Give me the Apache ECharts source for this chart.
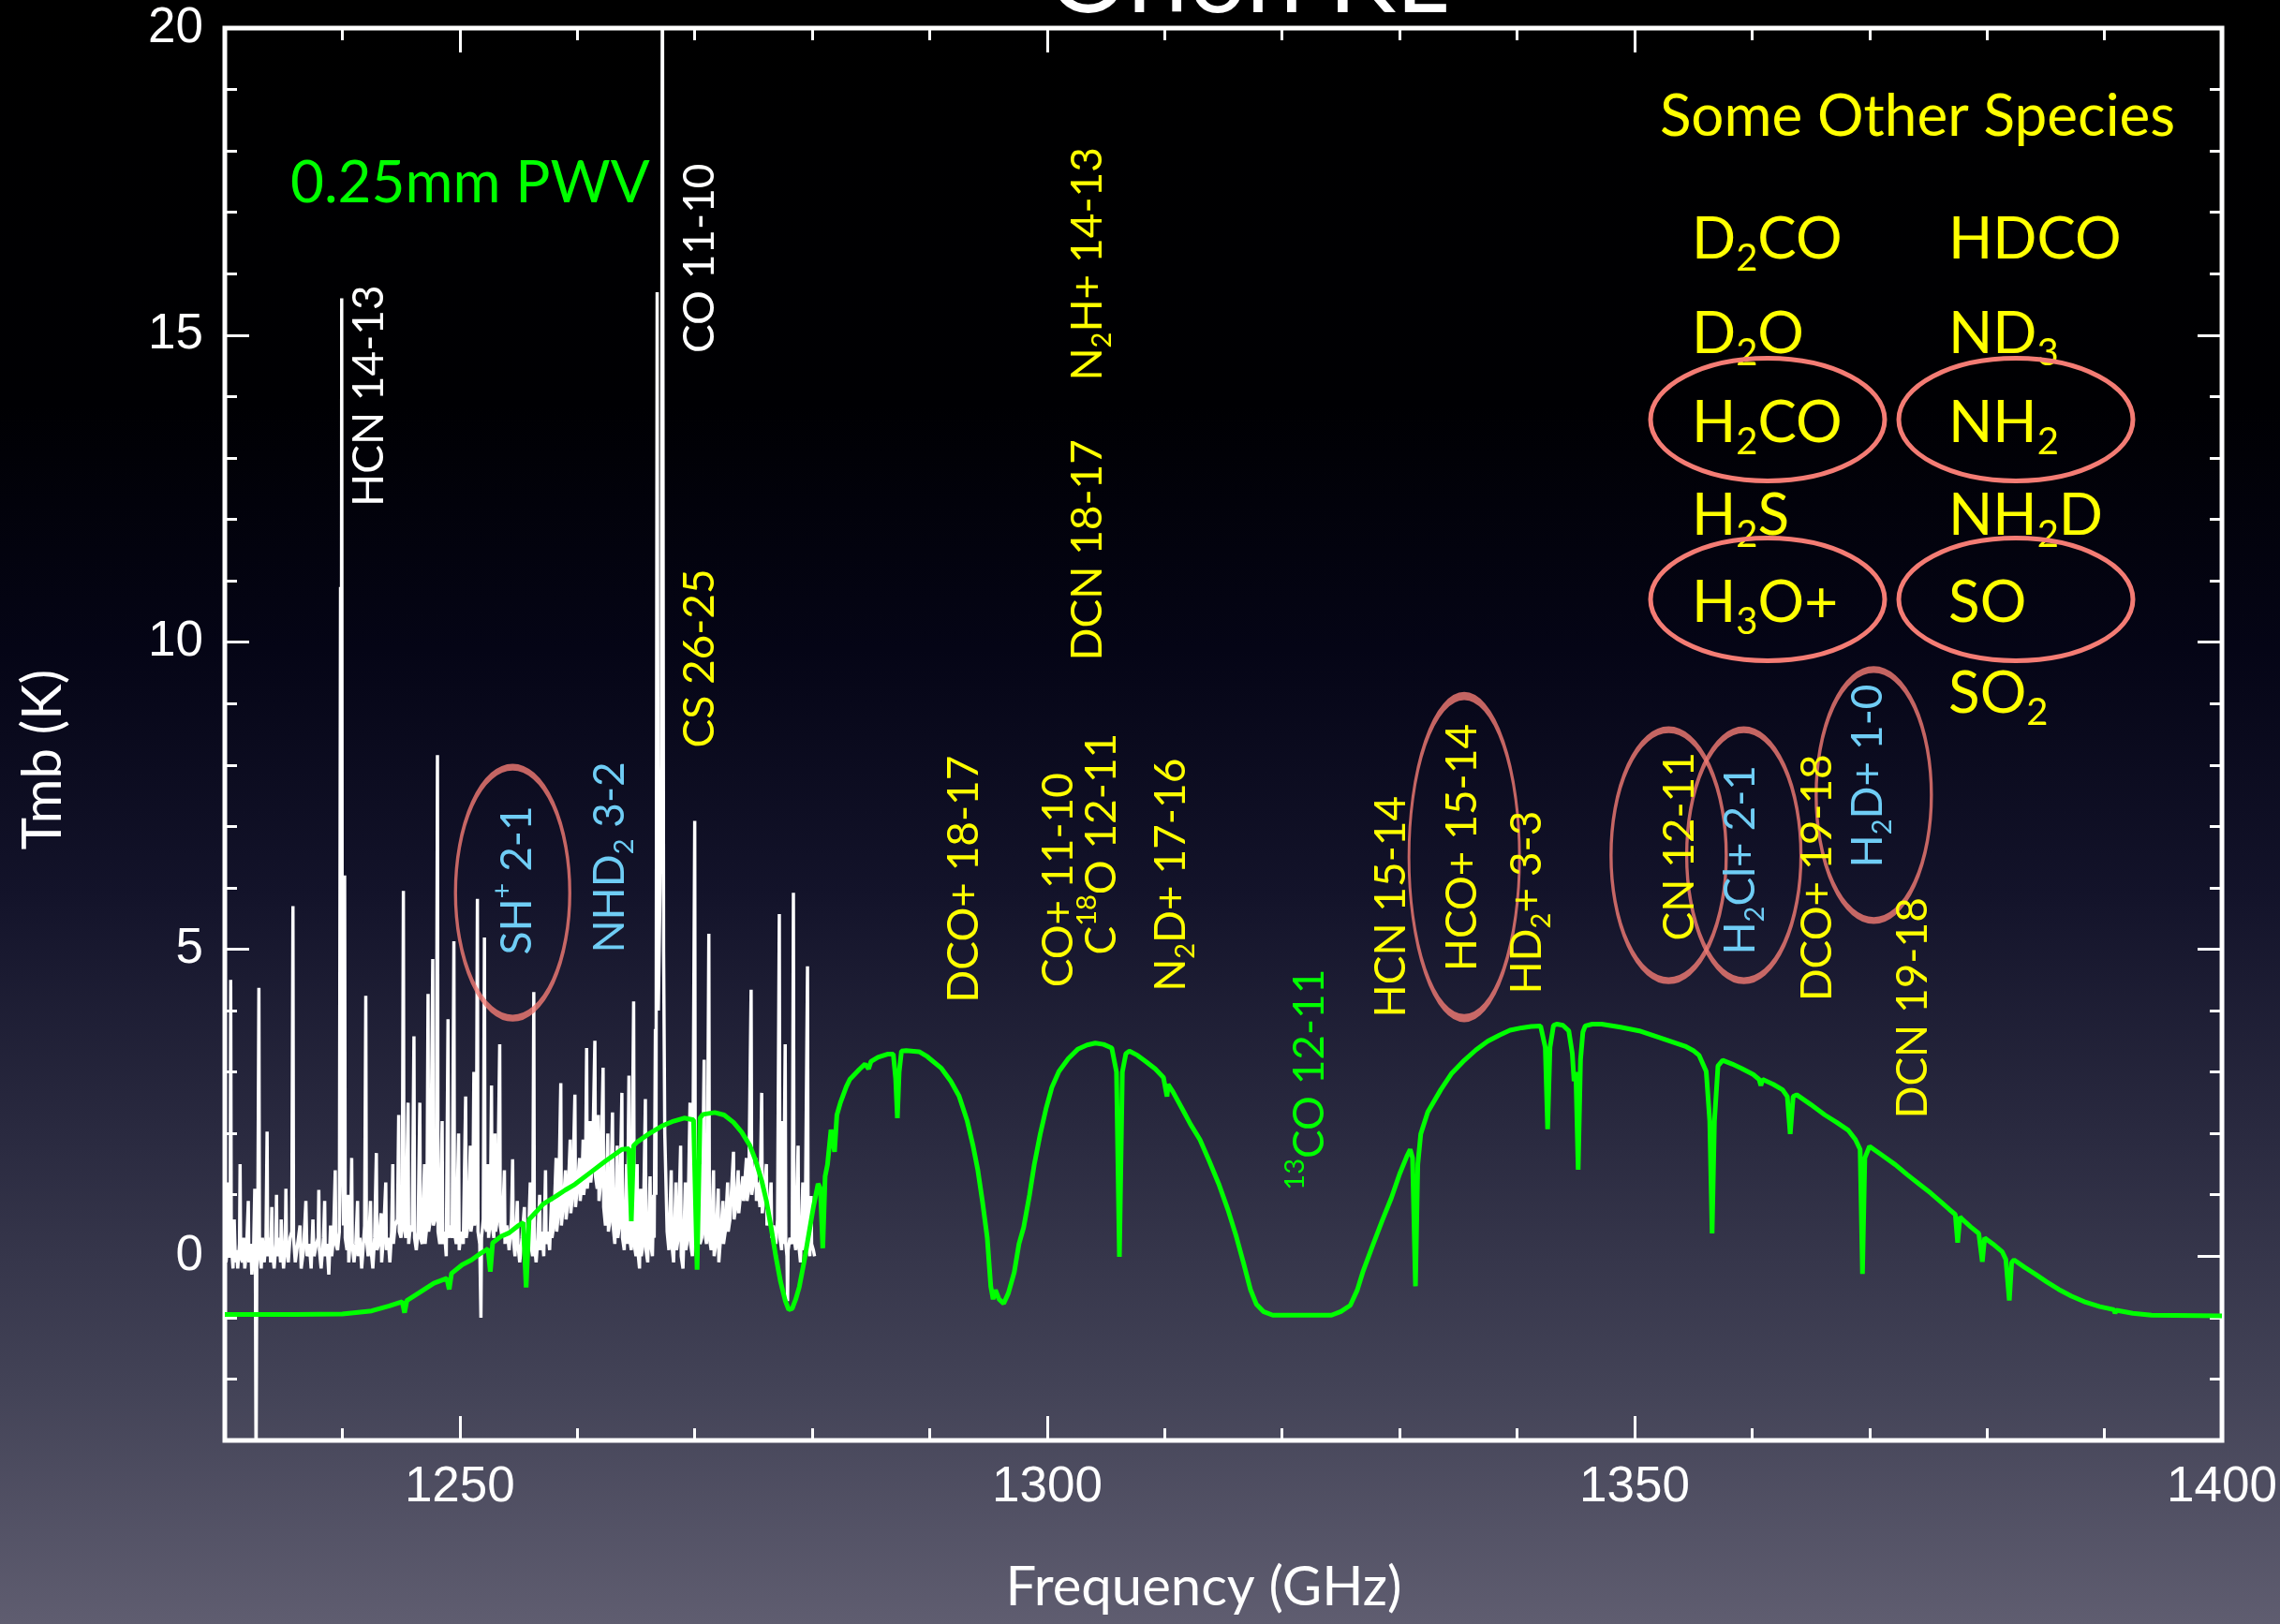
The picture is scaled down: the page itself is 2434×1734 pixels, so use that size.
<!DOCTYPE html>
<html>
<head>
<meta charset="utf-8">
<title>Orion KL</title>
<script src="https://cdn.jsdelivr.net/npm/echarts@6/dist/echarts.min.js"></script>
<style>
  html, body { margin: 0; padding: 0; background: #000; }
  #chart { width: 2434px; height: 1734px; }
</style>
</head>
<body>
<div id="chart"></div>
<script>
// ---- Orion KL spectrum, 1230-1400 GHz, with 0.25 mm PWV atmospheric transmission ----

// Observed spectrum: [frequency GHz, Tmb K]
const spectrum = [
  [1230.0,0.2],[1230.1,-0.1],[1230.2,0.1],[1230.3,1.2],[1230.35,0.0],[1230.45,0.1],[1230.5,4.5],[1230.55,0.2],
  [1230.7,-0.2],[1230.8,0.6],[1230.9,-0.1],[1231.0,0.1],[1231.1,-0.2],[1231.25,0.2],[1231.3,1.5],[1231.35,0.0],
  [1231.5,-0.1],[1231.6,0.3],[1231.7,-0.2],[1231.85,0.1],[1232.0,0.9],[1232.05,-0.1],[1232.2,0.2],[1232.3,-0.3],
  [1232.45,0.1],[1232.55,1.1],[1232.6,-0.1],[1232.66,-3.6],[1232.72,-0.2],[1232.8,0.2],[1232.9,4.37],[1232.95,0.1],
  [1233.1,-0.2],[1233.2,0.3],[1233.35,-0.1],[1233.5,0.2],[1233.6,2.03],[1233.65,0.0],[1233.8,0.3],[1233.9,-0.1],
  [1234.0,0.8],[1234.05,0.1],[1234.2,-0.2],[1234.35,0.2],[1234.4,1.0],[1234.45,0.0],[1234.6,0.3],[1234.75,-0.1],
  [1234.8,0.6],[1234.9,0.1],[1235.0,-0.2],[1235.15,0.2],[1235.2,1.1],[1235.25,0.2],[1235.4,-0.1],[1235.55,0.3],
  [1235.7,0.4],[1235.8,5.7],[1235.85,0.3],[1236.0,-0.1],[1236.2,0.2],[1236.4,0.5],[1236.5,-0.2],[1236.7,0.1],
  [1236.9,0.9],[1237.0,0.0],[1237.2,0.2],[1237.35,-0.2],[1237.5,0.6],[1237.6,0.0],[1237.8,0.2],[1237.95,0.3],
  [1238.0,1.08],[1238.05,0.1],[1238.2,-0.2],[1238.4,0.3],[1238.5,0.9],[1238.55,0.0],[1238.7,0.2],[1238.85,-0.3],
  [1239.0,0.5],[1239.1,0.0],[1239.25,0.3],[1239.4,1.4],[1239.45,0.2],[1239.6,0.1],[1239.75,0.4],[1239.85,10.9],
  [1239.9,1.2],[1239.95,15.6],[1240.0,1.5],[1240.1,0.5],[1240.2,6.2],[1240.25,0.3],[1240.4,0.1],[1240.5,1.0],
  [1240.55,-0.1],[1240.7,0.3],[1240.8,1.6],[1240.85,0.2],[1241.0,-0.1],[1241.15,0.2],[1241.3,0.9],[1241.35,0.0],
  [1241.5,0.3],[1241.65,-0.2],[1241.8,0.2],[1241.9,0.5],[1242.0,4.24],[1242.05,0.3],[1242.2,0.0],[1242.4,0.9],
  [1242.45,0.1],[1242.6,-0.2],[1242.75,0.3],[1242.9,1.68],[1242.95,0.1],[1243.1,0.2],[1243.3,0.7],[1243.35,-0.1],
  [1243.5,0.3],[1243.7,1.2],[1243.75,0.1],[1243.9,0.3],[1244.05,-0.1],[1244.2,0.4],[1244.3,1.5],[1244.35,0.2],
  [1244.5,0.5],[1244.7,0.6],[1244.8,2.3],[1244.85,0.4],[1245.0,0.3],[1245.1,0.6],[1245.2,5.95],[1245.25,0.5],
  [1245.4,0.3],[1245.6,2.5],[1245.65,0.2],[1245.8,0.5],[1245.95,0.4],[1246.1,3.58],[1246.15,0.3],[1246.3,0.1],
  [1246.45,0.4],[1246.6,2.5],[1246.65,0.3],[1246.8,0.2],[1247.0,1.5],[1247.05,0.2],[1247.2,0.5],[1247.3,4.27],
  [1247.35,0.4],[1247.5,0.6],[1247.7,4.84],[1247.75,0.5],[1247.9,0.6],[1248.0,1.2],[1248.1,8.16],[1248.15,0.4],
  [1248.3,0.2],[1248.5,2.2],[1248.55,0.2],[1248.7,0.4],[1248.85,0.0],[1249.0,3.86],[1249.05,0.3],[1249.2,0.5],
  [1249.35,0.3],[1249.5,5.13],[1249.55,0.4],[1249.7,0.2],[1249.9,2.0],[1249.95,0.1],[1250.1,0.4],[1250.3,0.2],
  [1250.5,2.6],[1250.55,0.3],[1250.7,0.5],[1250.9,1.8],[1250.95,0.4],[1251.1,0.6],[1251.2,3.0],[1251.25,0.5],
  [1251.4,0.7],[1251.5,5.82],[1251.55,0.4],[1251.7,0.2],[1251.8,-1.0],[1251.85,0.3],[1252.0,0.6],[1252.1,5.19],
  [1252.15,0.5],[1252.3,0.4],[1252.4,1.5],[1252.45,0.3],[1252.6,0.6],[1252.7,2.78],[1252.75,0.5],[1252.9,0.3],
  [1253.0,2.0],[1253.05,0.4],[1253.2,0.6],[1253.4,3.45],[1253.45,0.5],[1253.6,0.3],[1253.8,1.4],[1253.85,0.2],
  [1254.0,0.5],[1254.2,0.1],[1254.4,0.6],[1254.5,1.58],[1254.55,0.3],[1254.7,0.0],[1254.9,0.9],[1254.95,0.2],
  [1255.1,-0.1],[1255.3,0.3],[1255.5,0.8],[1255.55,0.1],[1255.7,-0.2],[1255.85,0.3],[1256.0,1.2],[1256.05,0.2],
  [1256.2,0.0],[1256.3,4.3],[1256.35,0.2],[1256.5,-0.1],[1256.65,0.3],[1256.8,1.0],[1256.85,0.1],[1257.0,0.4],
  [1257.15,0.0],[1257.3,1.4],[1257.35,0.2],[1257.5,0.4],[1257.65,0.1],[1257.8,0.9],[1257.85,0.3],[1258.0,0.5],
  [1258.2,1.6],[1258.25,0.4],[1258.4,0.7],[1258.6,2.82],[1258.65,0.5],[1258.8,0.8],[1259.0,1.4],[1259.05,0.6],
  [1259.2,0.9],[1259.4,1.9],[1259.45,0.7],[1259.6,1.0],[1259.8,2.63],[1259.85,0.8],[1260.0,1.1],[1260.2,1.6],
  [1260.25,0.9],[1260.4,1.2],[1260.5,1.9],[1260.55,1.0],[1260.7,1.3],[1260.8,3.39],[1260.85,1.1],[1261.0,1.4],
  [1261.1,2.2],[1261.15,1.2],[1261.3,1.5],[1261.5,3.51],[1261.55,1.3],[1261.7,1.1],[1261.8,2.3],[1261.85,0.9],
  [1262.0,1.2],[1262.2,3.07],[1262.25,0.8],[1262.4,0.5],[1262.6,2.0],[1262.65,0.4],[1262.8,0.6],[1263.0,2.34],
  [1263.05,0.5],[1263.2,0.2],[1263.4,1.8],[1263.45,0.3],[1263.6,0.5],[1263.8,2.66],[1263.85,0.3],[1264.0,0.1],
  [1264.2,1.5],[1264.25,0.2],[1264.4,2.94],[1264.45,0.3],[1264.6,0.1],[1264.8,4.15],[1264.85,0.2],[1265.0,0.0],
  [1265.1,1.5],[1265.15,0.1],[1265.3,-0.2],[1265.4,1.1],[1265.45,0.0],[1265.6,0.2],[1265.8,2.56],[1265.85,0.1],
  [1266.0,-0.1],[1266.2,1.3],[1266.25,0.2],[1266.4,0.0],[1266.5,1.0],[1266.55,0.3],[1266.65,3.7],[1266.7,1.0],
  [1266.8,15.7],[1266.9,4.0],[1267.05,6.0],[1267.15,8.0],[1267.25,22.0],[1267.35,4.97],[1267.45,2.0],[1267.6,2.0],
  [1267.65,0.4],[1267.8,0.1],[1268.0,1.4],[1268.05,0.2],[1268.2,-0.1],[1268.4,1.2],[1268.45,0.1],[1268.6,0.3],
  [1268.8,1.8],[1268.85,0.0],[1269.0,-0.2],[1269.2,1.2],[1269.25,0.1],[1269.4,0.3],[1269.6,2.5],[1269.65,0.2],
  [1269.8,0.0],[1270.0,7.09],[1270.05,0.2],[1270.2,0.0],[1270.4,1.5],[1270.45,0.2],[1270.6,0.3],[1270.8,3.2],
  [1270.85,0.4],[1271.0,0.2],[1271.1,1.9],[1271.2,5.25],[1271.25,0.3],[1271.4,0.1],[1271.6,1.4],[1271.65,0.0],
  [1271.8,0.2],[1272.0,1.1],[1272.05,-0.1],[1272.2,0.3],[1272.4,0.9],[1272.45,0.2],[1272.6,0.4],[1272.8,1.2],
  [1272.85,0.4],[1273.0,0.6],[1273.3,1.7],[1273.35,0.6],[1273.5,0.8],[1273.7,1.4],[1273.75,0.7],[1273.9,1.0],
  [1274.1,1.3],[1274.15,0.9],[1274.4,1.6],[1274.45,0.9],[1274.6,1.1],[1274.8,4.34],[1274.85,1.0],[1275.0,1.2],
  [1275.2,1.6],[1275.25,0.9],[1275.4,1.2],[1275.55,0.8],[1275.7,2.66],[1275.75,0.7],[1275.9,1.0],[1276.1,1.5],
  [1276.15,0.5],[1276.3,0.7],[1276.5,1.2],[1276.55,0.3],[1276.7,0.5],[1276.9,0.2],[1277.05,0.6],[1277.2,5.57],
  [1277.25,0.3],[1277.4,0.1],[1277.5,2.2],[1277.55,0.2],[1277.7,3.45],[1277.75,0.2],[1277.85,0.0],[1277.9,-0.73],
  [1277.95,0.1],[1278.1,0.3],[1278.3,0.2],[1278.4,5.92],[1278.45,0.3],[1278.6,0.1],[1278.8,1.8],[1278.85,0.2],
  [1279.0,-0.1],[1279.2,1.2],[1279.25,0.1],[1279.4,0.3],[1279.6,4.72],[1279.65,0.2],[1279.8,0.0],[1279.9,0.98],
  [1279.95,0.2],[1280.1,0.1],[1280.2,0.0]
];

// Atmospheric transmission for 0.25 mm PWV, drawn on the Tmb scale: [frequency GHz, level]
const transmission = [
  [1230.0,-0.95],[1236.0,-0.95],[1240.0,-0.94],[1242.5,-0.89],[1244.0,-0.81],[1245.1,-0.74],[1245.3,-0.92],
  [1245.5,-0.72],[1246.5,-0.6],[1247.8,-0.44],[1248.9,-0.36],[1249.1,-0.54],[1249.3,-0.28],[1250.2,-0.14],
  [1251.0,-0.06],[1251.8,0.05],[1252.4,0.12],[1252.6,-0.25],[1252.8,0.22],[1253.5,0.32],[1254.2,0.38],
  [1255.0,0.5],[1255.4,0.55],[1255.65,-0.51],[1255.9,0.6],[1256.5,0.72],[1257.1,0.85],[1258.2,0.98],
  [1259.0,1.08],[1259.8,1.17],[1261.1,1.36],[1262.4,1.55],[1263.8,1.74],[1264.4,1.75],[1264.6,0.57],
  [1264.8,1.8],[1265.1,1.86],[1266.0,1.98],[1267.2,2.12],[1268.2,2.2],[1269.1,2.25],[1269.9,2.22],
  [1270.2,-0.22],[1270.45,2.25],[1270.7,2.31],[1271.7,2.34],[1272.5,2.3],[1273.3,2.18],[1274.0,2.02],
  [1274.7,1.8],[1275.2,1.55],[1275.7,1.23],[1276.1,0.9],[1276.5,0.47],[1276.9,0.0],[1277.3,-0.41],
  [1277.7,-0.72],[1278.0,-0.87],[1278.3,-0.85],[1278.6,-0.7],[1278.9,-0.5],[1279.3,-0.1],[1279.7,0.35],
  [1280.1,0.8],[1280.5,1.18],[1280.7,1.1],[1280.9,0.13],[1281.1,1.3],[1281.3,1.49],[1281.6,2.06],
  [1281.9,1.7],[1282.1,2.3],[1282.4,2.5],[1282.9,2.76],[1283.2,2.88],[1284.0,3.04],[1284.5,3.13],
  [1284.8,3.05],[1285.0,3.17],[1285.6,3.24],[1286.4,3.29],[1286.9,3.29],[1287.1,2.9],[1287.25,2.25],
  [1287.4,3.0],[1287.6,3.34],[1288.0,3.35],[1289.1,3.33],[1289.8,3.25],[1291.0,3.06],[1291.8,2.85],
  [1292.5,2.61],[1293.2,2.2],[1293.7,1.79],[1294.1,1.4],[1294.5,0.88],[1294.9,0.3],[1295.2,-0.49],
  [1295.4,-0.7],[1295.6,-0.55],[1295.9,-0.7],[1296.3,-0.77],[1296.7,-0.6],[1297.2,-0.26],[1297.6,0.2],
  [1298.0,0.47],[1298.5,1.0],[1298.9,1.49],[1299.4,1.98],[1299.9,2.4],[1300.4,2.75],[1301.0,3.01],
  [1301.8,3.22],[1302.6,3.37],[1303.4,3.44],[1304.1,3.47],[1304.8,3.45],[1305.5,3.39],[1305.9,3.0],
  [1306.15,-0.01],[1306.4,3.0],[1306.7,3.3],[1307.0,3.34],[1307.7,3.27],[1308.4,3.17],[1309.2,3.05],
  [1309.9,2.91],[1310.2,2.6],[1310.3,2.8],[1310.7,2.68],[1311.5,2.4],[1312.2,2.15],[1313.0,1.9],
  [1313.8,1.55],[1314.6,1.18],[1315.4,0.75],[1316.1,0.32],[1316.7,-0.1],[1317.3,-0.54],[1317.8,-0.78],
  [1318.4,-0.9],[1319.2,-0.96],[1324.2,-0.96],[1325.0,-0.9],[1325.8,-0.8],[1326.4,-0.55],[1326.9,-0.24],
  [1327.7,0.17],[1328.5,0.57],[1329.3,0.95],[1330.0,1.34],[1330.6,1.62],[1330.9,1.74],[1331.1,1.6],
  [1331.35,-0.49],[1331.55,1.5],[1331.8,1.99],[1332.4,2.35],[1333.5,2.71],[1334.4,2.97],[1335.4,3.17],
  [1336.5,3.36],[1337.5,3.5],[1338.5,3.6],[1339.4,3.68],[1340.4,3.72],[1341.2,3.74],[1342.0,3.75],
  [1342.4,3.4],[1342.6,2.07],[1342.8,3.4],[1343.1,3.76],[1343.4,3.78],[1343.9,3.76],[1344.4,3.67],
  [1344.7,3.3],[1344.85,2.85],[1345.0,3.0],[1345.2,1.41],[1345.4,3.2],[1345.6,3.65],[1345.8,3.75],
  [1346.4,3.78],[1347.2,3.78],[1348.8,3.73],[1350.4,3.67],[1352.3,3.55],[1354.3,3.42],[1355.0,3.35],
  [1355.5,3.27],[1356.1,3.01],[1356.4,2.2],[1356.6,0.37],[1356.8,2.2],[1357.1,3.1],[1357.5,3.19],
  [1358.3,3.13],[1359.1,3.06],[1360.1,2.96],[1360.6,2.88],[1360.75,2.78],[1360.9,2.88],[1361.8,2.8],
  [1362.6,2.71],[1363.0,2.6],[1363.25,1.99],[1363.5,2.6],[1363.8,2.63],[1365.0,2.47],[1366.2,2.3],
  [1367.2,2.18],[1368.2,2.05],[1368.8,1.9],[1369.2,1.74],[1369.4,-0.29],[1369.6,1.6],[1370.0,1.79],
  [1371.1,1.64],[1372.2,1.49],[1373.2,1.33],[1374.2,1.18],[1375.2,1.03],[1376.1,0.88],[1376.8,0.76],
  [1377.3,0.68],[1377.5,0.22],[1377.7,0.64],[1377.9,0.6],[1378.6,0.48],[1379.3,0.37],[1379.6,-0.09],
  [1379.8,0.3],[1380.5,0.2],[1381.3,0.07],[1381.6,-0.05],[1381.9,-0.72],[1382.1,-0.1],[1382.3,-0.06],
  [1383.2,-0.18],[1384.1,-0.29],[1385.1,-0.42],[1386.1,-0.54],[1387.2,-0.65],[1388.4,-0.75],[1389.6,-0.82],
  [1390.8,-0.87],[1390.9,-0.93],[1391.0,-0.88],[1392.4,-0.93],[1394.0,-0.96],[1400.0,-0.97]
];

// Axis ticks
const freqMajorTicks = [1250, 1300, 1350, 1400];
const tmbMajorTicks = [0, 5, 10, 15, 20];

// Line identifications ({s|..} subscript, {p|..} superscript)
const lineLabelText = [
  'HCN 14-13', 'CO 11-10', 'CS 26-25', 'N{s|2}H+ 14-13', 'DCN 18-17',
  'SH{p|+} 2-1', 'NHD{s|2} 3-2', 'DCO+ 18-17', 'CO+ 11-10', 'C{p|18}O 12-11',
  'N{s|2}D+ 17-16', '{p|13}CO 12-11', 'HCN 15-14', 'HCO+ 15-14', 'HD{s|2}+ 3-3',
  'CN 12-11', 'H{s|2}Cl+ 2-1', 'DCO+ 19-18', 'H{s|2}D+ 1-0', 'DCN 19-18'
];
const lineLabelGroup = [
  'strong', 'strong', 'line', 'line', 'line',
  'hydride', 'hydride', 'line', 'line', 'line',
  'line', 'atmos', 'line', 'line', 'line',
  'line', 'hydride', 'line', 'hydride', 'line'
];
// where each identification text starts: [GHz, K]
const lineLabelAnchor = [
  [1242.35, 12.2], [1270.5, 14.7], [1270.5, 8.27], [1303.5, 14.25], [1303.5, 9.69],
  [1254.96, 4.9], [1262.8, 4.93], [1293.0, 4.12], [1301.0, 4.37], [1304.66, 4.9],
  [1310.6, 4.3], [1322.4, 1.07], [1329.36, 3.88], [1335.4, 4.63], [1340.9, 4.26],
  [1353.9, 5.13], [1359.05, 4.9], [1365.6, 4.14], [1369.9, 6.32], [1373.7, 2.23]
];

// Circled identifications: centre [GHz, K] and outline size in px
const circledLines = [
  { at: [1254.5, 5.92], size: [122, 268] },
  { at: [1335.5, 6.5], size: [118, 344] },
  { at: [1352.9, 6.53], size: [123, 268] },
  { at: [1359.3, 6.53], size: [122, 268] },
  { at: [1370.36, 7.51], size: [123, 268] }
];

// Panel of further species
const otherSpeciesTitle = 'Some Other Species';
const otherSpecies = [
  ['D{s|2}CO', 'HDCO'],
  ['D{s|2}O', 'ND{s|3}'],
  ['H{s|2}CO', 'NH{s|2}'],
  ['H{s|2}S', 'NH{s|2}D'],
  ['H{s|3}O+', 'SO'],
  [null, 'SO{s|2}']
];
const circledSpecies = [[2, 0], [2, 1], [4, 0], [4, 1]]; // [row, column]

// ---- styling ----
const SANS = 'Lato, "Open Sans", "Noto Sans", sans-serif';
const TICKFONT = '"Liberation Sans", Arial, sans-serif';
const COLORS = {
  strong: '#ffffff',
  line: '#ffff00',
  hydride: '#6fcdf5',
  atmos: '#00ff00',
  ring: '#f47c74'
};

function richFor(color, base) {
  const sub = Math.round(base * 0.64);
  const lh = Math.round(base * 1.3);
  return {
    s: { fontSize: sub, lineHeight: Math.round(lh * 0.78), verticalAlign: 'bottom', fontFamily: SANS,
         color: color, textBorderWidth: 0, opacity: 1 },
    p: { fontSize: sub, lineHeight: Math.round(lh * 0.72), verticalAlign: 'top', fontFamily: SANS,
         color: color, textBorderWidth: 0, opacity: 1 }
  };
}

const LABEL_SIZE = 46;
const labelData = lineLabelText.map((t, i) => {
  const c = COLORS[lineLabelGroup[i]];
  return {
    name: t,
    value: lineLabelAnchor[i],
    label: { color: c, rich: richFor(c, LABEL_SIZE) }
  };
});

const ringData = circledLines.map(r => ({ value: r.at, symbolSize: r.size }));

// panel layout (px)
const PANEL_SIZE = 62;
const panelColX = [1806, 2080];
const panelRowBase = [276, 377, 472, 571, 664, 761];
const panelRingX = [1887, 2152];
const graphics = [];
graphics.push({
  type: 'text', x: 2047, y: 125, z: 20,
  style: { text: otherSpeciesTitle, fill: COLORS.line, fontSize: PANEL_SIZE, fontFamily: SANS,
           align: 'center', verticalAlign: 'middle' }
});
otherSpecies.forEach((row, r) => {
  row.forEach((txt, c) => {
    if (!txt) return;
    graphics.push({
      type: 'text', x: panelColX[c], y: panelRowBase[r] - 20, z: 20,
      style: {
        text: txt, fill: COLORS.line, fontSize: PANEL_SIZE, fontFamily: SANS,
        lineHeight: 80, align: 'left', verticalAlign: 'middle',
        rich: {
          s: { fontSize: 40, lineHeight: 50, verticalAlign: 'bottom', fontFamily: SANS, fill: COLORS.line }
        }
      }
    });
  });
});
circledSpecies.forEach(([r, c]) => {
  graphics.push({
    type: 'ellipse', z: 21,
    shape: { cx: panelRingX[c], cy: panelRowBase[r] - 24, rx: 125, ry: 65.5 },
    style: { fill: null, stroke: COLORS.ring, lineWidth: 5 }
  });
});
graphics.push({
  type: 'text', x: 310, y: 196, z: 20,
  style: { text: '0.25mm PWV', fill: COLORS.atmos, fontSize: 62, fontFamily: SANS,
           align: 'left', verticalAlign: 'middle' }
});

const tickLine = { color: '#ffffff', width: 3 };
const plainNumber = v => String(v);

function freqAxis(position, major, withLabels) {
  const ax = {
    type: 'value', position: position, min: 1230, max: 1400, interval: 10,
    axisLine: { show: false, onZero: false }, splitLine: { show: false },
    axisTick: { show: true, inside: true, length: major ? 26 : 13, lineStyle: tickLine },
    axisLabel: { show: false }
  };
  if (major) ax.axisTick.customValues = freqMajorTicks;
  if (withLabels) {
    ax.axisLabel = { show: true, customValues: freqMajorTicks, formatter: plainNumber, color: '#ffffff',
                     fontSize: 53, fontFamily: TICKFONT, margin: 24 };
    ax.name = 'Frequency (GHz)';
    ax.nameLocation = 'middle';
    ax.nameGap = 128;
    ax.nameTextStyle = { color: '#ffffff', fontSize: 58, fontFamily: SANS, padding: [0, 42, 0, 0] };
  }
  return ax;
}

function tmbAxis(position, major, withLabels) {
  const ax = {
    type: 'value', position: position, min: -3, max: 20, interval: 1,
    axisLine: { show: false, onZero: false }, splitLine: { show: false },
    axisTick: { show: true, inside: true, length: major ? 26 : 13, lineStyle: tickLine },
    axisLabel: { show: false }
  };
  if (major) ax.axisTick.customValues = tmbMajorTicks;
  if (withLabels) {
    ax.axisLabel = { show: true, customValues: tmbMajorTicks, formatter: plainNumber, color: '#ffffff',
                     fontSize: 53, fontFamily: TICKFONT, margin: 23 };
    ax.name = 'Tmb (K)';
    ax.nameLocation = 'middle';
    ax.nameGap = 165;
    ax.nameTextStyle = { color: '#ffffff', fontSize: 58, fontFamily: SANS, padding: [0, 54, 0, 0] };
  }
  return ax;
}

const chart = echarts.init(document.getElementById('chart'), null, { renderer: 'canvas', width: 2434, height: 1734 });

chart.setOption({
  animation: false,
  backgroundColor: {
    type: 'linear', x: 0, y: 0, x2: 0, y2: 1,
    colorStops: [
      { offset: 0, color: '#000000' },
      { offset: 0.25, color: '#000003' },
      { offset: 0.4, color: '#050516' },
      { offset: 0.55, color: '#13132a' },
      { offset: 0.7, color: '#2a2a40' },
      { offset: 0.85, color: '#424256' },
      { offset: 1, color: '#5f5d70' }
    ]
  },
  title: {
    text: 'Orion KL', left: 1332, top: -76, textAlign: 'center', padding: 0,
    textStyle: { color: '#ffffff', fontSize: 108, fontWeight: 'normal', fontFamily: SANS }
  },
  grid: {
    left: 240, right: 61, top: 30, bottom: 196,
    show: true, borderColor: '#ffffff', borderWidth: 5, backgroundColor: 'transparent'
  },
  xAxis: [
    freqAxis('bottom', true, true),
    freqAxis('bottom', false, false),
    freqAxis('top', true, false),
    freqAxis('top', false, false)
  ],
  yAxis: [
    tmbAxis('left', true, true),
    tmbAxis('left', false, false),
    tmbAxis('right', true, false),
    tmbAxis('right', false, false)
  ],
  series: [
    {
      name: 'Orion KL', type: 'line', data: spectrum, xAxisIndex: 0, yAxisIndex: 0,
      showSymbol: false, clip: true, z: 2,
      lineStyle: { color: '#ffffff', width: 3.5 }
    },
    {
      name: 'Transmission', type: 'line', data: transmission, xAxisIndex: 0, yAxisIndex: 0,
      showSymbol: false, clip: true, z: 3,
      lineStyle: { color: COLORS.atmos, width: 5 }
    },
    {
      name: 'circled', type: 'scatter', data: ringData, symbol: 'circle', silent: true, z: 5,
      itemStyle: { color: 'rgba(0,0,0,0)', borderColor: COLORS.ring, borderWidth: 5 }
    },
    {
      name: 'identifications', type: 'scatter', data: labelData, symbolSize: 1, silent: true, z: 6,
      itemStyle: { color: 'rgba(0,0,0,0)' },
      label: {
        show: true, position: [0, 0], rotate: 90, align: 'left', verticalAlign: 'middle',
        fontSize: LABEL_SIZE, lineHeight: 60, fontFamily: SANS,
        textBorderWidth: 0, opacity: 1,
        formatter: p => p.name
      }
    }
  ],
  graphic: graphics
});
</script>
</body>
</html>
